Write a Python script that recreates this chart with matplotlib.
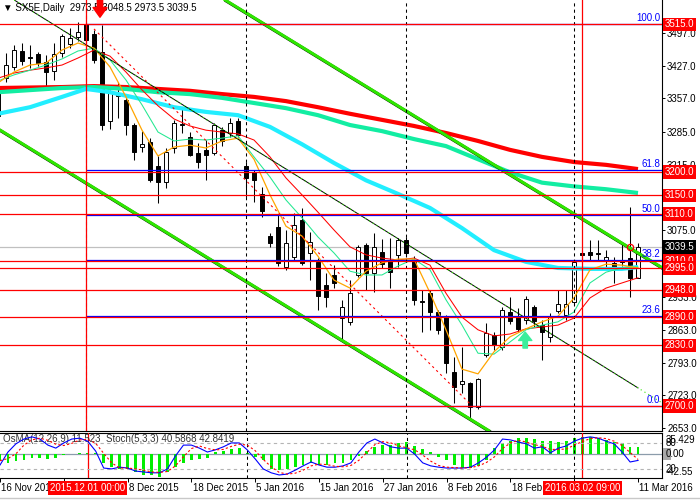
import numpy as np
import matplotlib
matplotlib.use('Agg')
import matplotlib.pyplot as plt
import matplotlib.patheffects as pe
from matplotlib.patches import Rectangle
from matplotlib.lines import Line2D
from matplotlib.transforms import blended_transform_factory as blend

plt.rcParams['font.family'] = ['Liberation Sans', 'DejaVu Sans']
plt.rcParams['font.size'] = 7

# ---------------- dane: swiece SX5E D1 (16 Nov 2015 .. 11 Mar 2016) ----------------
opens = [3320, 3400, 3424, 3458, 3446, 3452, 3434, 3415, 3454, 3473,
         3488, 3515, 3494, 3456, 3308, 3362, 3353, 3300, 3253, 3264,
         3213, 3178, 3251, 3300, 3275, 3240, 3247, 3240, 3289, 3283,
         3308, 3213, 3200, 3153, 3063, 3082, 2997, 3018, 3097, 3027,
         3008, 2958, 2980, 2888, 2880, 2980, 3044, 2984, 3029, 3012,
         3022, 3055, 3012, 2925, 2942, 2901, 2890, 2773, 2748, 2750,
         2698, 2810, 2852, 2826, 2901, 2890, 2884, 2912, 2873, 2848,
         2903, 2894, 2922, 3027, 3029, 3027, 3012, 3005, 3010, 3016,
         2973.5]
highs = [3385, 3454, 3471, 3475, 3471, 3456, 3449, 3475, 3495, 3507,
         3520, 3517, 3502, 3513, 3375, 3392, 3360, 3305, 3287, 3272,
         3234, 3251, 3311, 3336, 3286, 3262, 3268, 3304, 3296, 3315,
         3315, 3221, 3204, 3168, 3070, 3108, 3076, 3112, 3123, 3072,
         3016, 2984, 3001, 2927, 2969, 3044, 3048, 3069, 3056, 3058,
         3058, 3060, 3020, 2948, 2948, 2905, 2895, 2805, 2826, 2752,
         2760, 2877, 2858, 2912, 2933, 2909, 2935, 2916, 2884, 2899,
         2948, 2948, 3012, 3031, 3055, 3055, 3033, 3018, 3048, 3126,
         3048.5]
lows = [3300, 3392, 3418, 3428, 3422, 3426, 3383, 3396, 3445, 3465,
        3480, 3478, 3432, 3289, 3291, 3315, 3279, 3225, 3242, 3178,
        3134, 3166, 3240, 3283, 3233, 3208, 3183, 3236, 3255, 3275,
        3275, 3146, 3136, 3104, 3040, 3000, 2990, 3010, 3001, 2969,
        2905, 2912, 2952, 2841, 2873, 2975, 2948, 2944, 2995, 2952,
        2997, 3018, 2916, 2858, 2862, 2855, 2771, 2707, 2728, 2672,
        2695, 2805, 2820, 2820, 2875, 2858, 2875, 2870, 2799, 2837,
        2899, 2884, 2915, 3015, 3012, 3012, 2998, 2963, 2999, 2933,
        2973.5]
closes = [3378, 3428, 3460, 3437, 3444, 3432, 3413, 3452, 3490, 3486,
          3499, 3481, 3439, 3300, 3368, 3368, 3300, 3242, 3260, 3183,
          3178, 3242, 3304, 3303, 3236, 3221, 3236, 3300, 3266, 3304,
          3279, 3187, 3183, 3117, 3048, 3006, 3048, 3087, 3006, 3050,
          2935, 2933, 2963, 2912, 2942, 3040, 2984, 3040, 3004, 2986,
          3055, 3027, 2927, 2922, 2901, 2863, 2792, 2741, 2754, 2698,
          2758, 2856, 2830, 2905, 2882, 2864, 2929, 2881, 2858, 2892,
          2918, 2918, 3008, 3022, 3023, 3025, 3018, 2997, 3008, 2973,
          3039.5]

# srednie kroczace (odczyt co 2 swiece)
ma_fast_bars = list(range(0, 81, 2))
ma_orange = [3390, 3413, 3428, 3432, 3460, 3475, 3464, 3424, 3360, 3289,
             3234, 3253, 3257, 3251, 3266, 3272, 3227, 3151, 3084, 3063,
             3020, 2969, 2952, 2988, 3006, 3014, 3014, 2942, 2863, 2779,
             2769, 2816, 2848, 2865, 2880, 2892, 2931, 2991, 3003, 3001,
             2995]
ma_spring = [3394, 3407, 3417, 3428, 3441, 3458, 3464, 3439, 3396, 3343,
             3285, 3266, 3270, 3268, 3272, 3277, 3232, 3189, 3140, 3102,
             3061, 3027, 2988, 2980, 2980, 2999, 3014, 2991, 2927, 2873,
             2813, 2811, 2837, 2863, 2873, 2880, 2901, 2963, 2986, 2995,
             2997]
ma_red_thin = [3400, 3411, 3417, 3422, 3428, 3443, 3460, 3447, 3413, 3375,
               3341, 3313, 3298, 3289, 3285, 3281, 3268, 3232, 3187, 3151,
               3114, 3076, 3040, 3023, 3016, 3012, 3016, 3001, 2941, 2890,
               2863, 2850, 2854, 2865, 2869, 2873, 2888, 2931, 2952, 2963,
               2974]

ma_slow_bars = [0, 8, 12, 16, 20, 24, 28, 32, 36, 40, 44, 48, 52, 56, 60, 64, 68, 72, 76, 80]
ma_red_thick = [3379, 3381, 3383, 3381, 3377, 3373, 3366, 3360, 3351, 3338,
                3324, 3311, 3298, 3283, 3266, 3247, 3232, 3221, 3215, 3206]
ma_mint = [3370, 3379, 3381, 3377, 3370, 3366, 3358, 3347, 3336, 3321,
           3300, 3287, 3270, 3255, 3227, 3199, 3177, 3169, 3163, 3155]
cyan_bars = [0, 4, 8, 11, 14, 18, 22, 26, 30, 34, 38, 42, 46, 50, 54, 58, 62, 66, 70, 74, 78, 80]
ma_cyan = [3324, 3338, 3360, 3377, 3370, 3355, 3338, 3328, 3321, 3296, 3259,
           3219, 3182, 3153, 3123, 3080, 3033, 3008, 2995, 2993, 2993, 2997]

# poziomy
red_levels = [3515, 3200, 3150, 3110, 3010, 2995, 2948, 2890, 2830, 2700]
fib_names = ['100.0', '61.8', '50.0', '38.2', '23.6', '0.0']
fib_prices = [3515, 3203.7, 3107.5, 3011.3, 2892.3, 2700]
price_ticks = [3497, 3427, 3357, 3285, 3215, 3145, 3075, 3003, 2933, 2863, 2793, 2723, 2653]
hidden_ticks = [3145, 3003]
last_price = 3039.5

# linie trendu (swieca, cena)
chan_up = [(30, 3550), (80, 3027)]
chan_down = [(0, 3292), (60, 2662)]
trend_black = ([2.1, 80.0], [3566, 2739])
trend_red = ([12, 59], [3505, 2705])

# oscylatory
osma = [-10, -15.8, -11.9, -10.2, -7.3, -7.3, -9.0, -6.3, -1.7, 0.5,
        2.2, 2.2, 1.2, -15.8, -21.5, -26.0, -26.0, -30.0, -35.6, -35.6,
        -38.5, -30.0, -21.5, -14.7, -10.2, -9.0, -7.3, 3.9, 5.6, 8.0,
        9.7, 1.2, -4.6, -10.2, -26.0, -27.1, -26.0, -21.5, -18.6, -14.7,
        -18.6, -18.6, -14.7, -14.7, -10.2, -3.4, 5.1, 12.4, 15.3, 15.3,
        19.2, 20.8, 13.6, 8.0, 3.9, -4.6, -10.2, -18.6, -23.2, -23.2,
        -20.3, -10.2, 9.7, 18.1, 22.0, 26.6, 26.6, 24.9, 22.5, 22.5,
        20.8, 22.5, 26.6, 28.3, 28.3, 26.6, 23.7, 20.8, 18.1, 12.4,
        11.523]
stoch_main = [30, 60, 79, 90, 95, 90, 76, 69, 81, 90,
              92, 85, 62, 23, 21, 25, 23, 16, 14, 12,
              12, 21, 51, 76, 76, 69, 60, 65, 72, 81,
              81, 65, 44, 21, 12, 7, 9, 18, 28, 37,
              30, 25, 25, 28, 35, 60, 81, 90, 81, 72,
              69, 69, 55, 35, 28, 25, 23, 23, 23, 25,
              35, 48, 65, 90, 88, 83, 79, 69, 72, 58,
              69, 74, 85, 92, 95, 92, 85, 79, 60, 37,
              40.5868]
stoch_signal = [40, 45, 56, 76, 88, 92, 87, 78, 75, 80,
                88, 89, 80, 57, 35, 23, 23, 21, 18, 14,
                13, 15, 28, 49, 68, 74, 68, 65, 66, 73,
                78, 76, 63, 43, 26, 13, 9, 11, 18, 28,
                32, 31, 27, 26, 29, 41, 59, 77, 84, 81,
                74, 70, 65, 53, 39, 29, 25, 24, 23, 24,
                28, 36, 49, 68, 81, 87, 83, 77, 73, 66,
                66, 67, 76, 84, 91, 93, 91, 85, 75, 59,
                42.8419]

tick_bars = [8 * k for k in range(11)]
date_bars = [0, 16, 24, 32, 40, 48, 56, 64, 80]
date_text = ['16 Nov 2015', '8 Dec 2015', '18 Dec 2015', '5 Jan 2016', '15 Jan 2016',
             '27 Jan 2016', '8 Feb 2016', '18 Feb', '11 Mar 2016']
marked_bars = [11, 73]
marked_text = ['2015.12.01 00:00', '2016.03.02 09:00']
month_bars = [11, 31, 51, 72]

# ---------------- rysowanie ----------------
fig = plt.figure(figsize=(7, 5), dpi=100)
ax = fig.add_axes([0, 0.139, 662 / 700, 0.861])
axi = fig.add_axes([0, 0.044, 662 / 700, 0.091])
axs = axi.twinx()

x = np.arange(len(closes))
o = np.array(opens); c = np.array(closes)
ax.vlines(x, lows, highs, color='black', lw=0.75, zorder=2)
body_col = ['white' if cc >= oo else 'black' for oo, cc in zip(o, c)]
ax.bar(x, np.abs(c - o), 0.6, bottom=np.minimum(o, c), color=body_col,
       edgecolor='black', lw=0.7, zorder=2.5)

ax.axhline(last_price, color='#c0c0c0', lw=0.9, zorder=1)

ax.plot(ma_slow_bars, ma_red_thick, color='#ff0000', lw=3, zorder=3, solid_capstyle='butt')
ax.plot(ma_slow_bars, ma_mint, color='#12eda2', lw=3, zorder=3, solid_capstyle='butt')
ax.plot(cyan_bars, ma_cyan, color='#22eeff', lw=3, zorder=3, solid_capstyle='butt')
ax.plot(ma_fast_bars, ma_red_thin, color='#ff0000', lw=0.75, zorder=3.2)
ax.plot(ma_fast_bars, ma_spring, color='#22e890', lw=0.75, zorder=3.2)
ax.plot(ma_fast_bars, ma_orange, color='#ffa500', lw=0.9, zorder=3.3)

shadow = [pe.SimpleLineShadow(offset=(0.6, -0.6), shadow_color='black', alpha=1), pe.Normal()]
for pts in (chan_up, chan_down):
    ax.axline(pts[0], pts[1], color='#2ee600', lw=2.2, zorder=3.5, path_effects=shadow)
ax.plot(trend_black[0], trend_black[1], color='black', lw=0.7, zorder=3.5)
ax.axline((trend_black[0][0], trend_black[1][0]), (trend_black[0][1], trend_black[1][1]),
          color='#2ee600', lw=0.8, ls=(0, (1, 3)), zorder=3.6)
ax.plot(trend_red[0], trend_red[1], color='red', lw=0.8, ls=(0, (2, 3)), zorder=3.5)

ax.hlines(fib_prices, marked_bars[0], 84, color='blue', lw=0.9, zorder=4)
for lv in red_levels:
    ax.axhline(lv, color='red', lw=0.9, zorder=4.2)
for b in month_bars:
    for a in (ax, axi):
        a.axvline(b, color='black', lw=0.75, ls=(0, (3, 3)), zorder=4)
for b in marked_bars:
    for a in (ax, axi):
        a.axvline(b, color='red', lw=0.9, zorder=4.3)

# strzalki i znacznik
ax.annotate('', xy=(12.75, 3530), xytext=(12.75, 3567),
            arrowprops=dict(arrowstyle='simple,head_length=0.7,head_width=1.0,tail_width=0.38',
                            color='red', mutation_scale=10, shrinkA=0, shrinkB=0), zorder=6)
ax.annotate('', xy=(65.9, 2858), xytext=(65.9, 2824),
            arrowprops=dict(arrowstyle='simple,head_length=0.6,head_width=0.95,tail_width=0.32',
                            color='#3cee9c', mutation_scale=10, shrinkA=0, shrinkB=0), zorder=6)
ax.plot(79, 3040, 'o', ms=4.5, mfc='none', mec='red', mew=0.9, zorder=6)

ax.set_xlim(0.25, 83)
ax.set_ylim(2648.1, 3566.8)
ax.set_xticks([])
ax.yaxis.tick_right()
ax.set_yticks(price_ticks)
ax.set_yticklabels(['' if t in hidden_ticks else f'{t:.1f}' for t in price_ticks])
ax.tick_params(axis='y', length=2.5, width=0.7, pad=1.2, labelsize=7)
for s in ('left', 'top'):
    ax.spines[s].set_visible(False)
for s in ('right', 'bottom'):
    ax.spines[s].set_linewidth(0.8)

ty = blend(ax.transAxes, ax.transData)
for lv in red_levels:
    ax.text(1.004, lv, f'{lv:.1f}', transform=ty, ha='left', va='center', color='white',
            bbox=dict(boxstyle='square,pad=0.18', fc='red', ec='none'), clip_on=False, zorder=10)
ax.text(1.004, last_price, f'{last_price:.1f}', transform=ty, ha='left', va='center', color='white',
        bbox=dict(boxstyle='square,pad=0.18', fc='black', ec='none'), clip_on=False, zorder=10)
for nm, fp in zip(fib_names, fib_prices):
    ax.text(0.997, fp + 3, nm, transform=ty, ha='right', va='bottom', color='blue', zorder=7)

ax.text(0.004, 0.993, '\u25BC SX5E,Daily  2973.5 3048.5 2973.5 3039.5', transform=ax.transAxes,
        ha='left', va='top', color='black', zorder=5)

# okno oscylatorow
axi.bar(x, osma, 0.35, color='#00ee00', zorder=2)
axi.axhline(0, color='#8c9cab', lw=0.9, zorder=1)
axi.set_xlim(0.25, 83)
axi.set_ylim(-40.7, 36.4)
axs.set_ylim(0, 105.1)
for lv in (80, 20):
    axs.axhline(lv, color='#b4b4b4', lw=0.8, ls=(0, (3, 3)), zorder=1)
axs.plot(x, stoch_main, color='blue', lw=0.8, zorder=3)
axs.plot(x, stoch_signal, color='red', lw=0.8, ls=(0, (2, 2)), zorder=3)
axs.set_yticks([])
for s in axs.spines.values():
    s.set_visible(False)

axi.set_yticks([])
axi.set_xticks(tick_bars)
axi.set_xticklabels([])
axi.tick_params(axis='x', length=3, width=0.7)
axi.spines['left'].set_visible(False)
for s in ('right', 'bottom', 'top'):
    axi.spines[s].set_linewidth(0.8)

axi.text(0.004, 0.86, 'OsMA(12,26,9) 11.523  Stoch(5,3,3) 40.5868 42.8419', transform=axi.transAxes,
         ha='left', va='center', color='#333333', zorder=10)
ti = blend(axi.transAxes, axi.transData)
ts = blend(axs.transAxes, axs.transData)
axi.text(1.006, 0.95, '35.429', transform=axi.transAxes, ha='left', va='top', clip_on=False)
axs.text(1.006, 80, '80', transform=ts, ha='left', va='center', clip_on=False)
axi.add_patch(Rectangle((1.001, 0.40), 0.013, 0.26, transform=axi.transAxes,
                        fc='#a8a8a8', ec='none', clip_on=False, zorder=5))
axi.text(1.006, 0, '0.00', transform=ti, ha='left', va='center', clip_on=False, zorder=6)
axs.text(1.006, 20, '20', transform=ts, ha='left', va='center', clip_on=False)
axi.text(1.006, 0.02, '-42.55', transform=axi.transAxes, ha='left', va='bottom', clip_on=False)

td = blend(axi.transData, fig.transFigure)
for b, t in zip(date_bars, date_text):
    axi.text(b + 0.15, 0.024, t, transform=td, ha='left', va='center', clip_on=False)
for b, t in zip(marked_bars, marked_text):
    axi.text(b, 0.024, t, transform=td, ha='center', va='center', color='white', clip_on=False,
             bbox=dict(boxstyle='square,pad=0.2', fc='red', ec='none'), zorder=20)

fig.add_artist(Line2D([0, 1], [0.004, 0.004], color='#c8c8c8', lw=1))

fig.savefig('out.png', dpi=100)
